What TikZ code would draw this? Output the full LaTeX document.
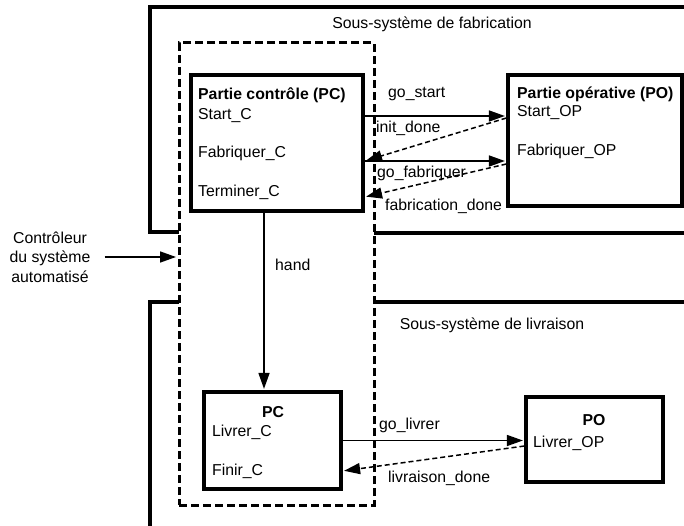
\documentclass[tikz,border=0pt]{standalone}
\usepackage{fontspec}
\setmainfont{Liberation Sans}
\usetikzlibrary{arrows.meta}

\begin{document}
\begin{tikzpicture}[x=1pt, y=-1pt,
  font=\fontsize{15.8}{19.5}\selectfont,
  bold/.style={font=\fontsize{15.8}{19.5}\selectfont\bfseries},
  box/.style={draw, line width=3.2pt, inner sep=0pt},
  zone/.style={draw, line width=3pt, dash pattern=on 8pt off 4pt, inner sep=0pt},
  txt/.style={inner sep=0pt, anchor=base west},
  frame/.style={line width=3.2pt},
  arr/.style={line width=1.5pt, shorten >=1.5pt, -{Triangle[length=16pt,width=11pt]}},
  darr/.style={arr, dash pattern=on 5pt off 3pt}
]
  \useasboundingbox (0,0) rectangle (684,526);

  % sous-systemes
  \draw[frame] (179,232) -- (150,232) -- (150,7) -- (686,7);
  \draw[frame] (374,233) -- (686,233);
  \draw[frame] (179,302) -- (150,302) -- (150,530);
  \draw[frame] (374,302) -- (686,302);
  \node[inner sep=0pt, anchor=base] (fabsys) at (432,29) {Sous-système de fabrication};
  \node[inner sep=0pt, anchor=base] (livsys) at (492,329) {Sous-système de livraison};

  % controleur
  \node[zone, minimum width=195pt, minimum height=462pt] (zone) at (276.5,274) {};
  \node[inner sep=0pt, align=center] (ctrl) at (50,257) {Contrôleur\\du système\\automatisé};

  % boites
  \node[box, minimum width=172pt, minimum height=136pt] (pc)  at (277,143)     {};
  \node[box, minimum width=174pt, minimum height=131pt] (po)  at (595,140.5)   {};
  \node[box, minimum width=137pt, minimum height=97pt]  (pcl) at (272.5,440.5) {};
  \node[box, minimum width=137pt, minimum height=85pt]  (pol) at (594.5,439.5) {};

  \node[txt, bold] (pct) at (198,100) {Partie contrôle (PC)};
  \node[txt] (startc) at (198,119.5) {Start\_C};
  \node[txt] (fabc)   at (198,158)   {Fabriquer\_C};
  \node[txt] (termc)  at (198,196.5) {Terminer\_C};
  \node[txt, bold] (pot) at (517,99) {Partie opérative (PO)};
  \node[txt] (startop) at (517,117) {Start\_OP};
  \node[txt] (fabop)   at (517,156) {Fabriquer\_OP};

  \node[bold, inner sep=0pt, anchor=base] (pclt) at (273,417) {PC};
  \node[txt] (livc) at (212,436) {Livrer\_C};
  \node[txt] (finc) at (212,475) {Finir\_C};
  \node[bold, inner sep=0pt, anchor=base] (polt) at (594,425) {PO};
  \node[txt] (livop) at (533,447) {Livrer\_OP};

  % messages
  \node[txt] (gostart)  at (388,98)  {go\_start};
  \node[txt] (initdone) at (376,133) {init\_done};
  \node[txt] (gofab)    at (377,178) {go\_fabriquer};
  \node[txt] (fabdone)  at (385,211) {fabrication\_done};
  \node[txt] (hand)     at (275,270) {hand};
  \node[txt] (golivrer) at (379,429) {go\_livrer};
  \node[txt] (livdone)  at (388,482) {livraison\_done};

  \draw[arr]  ([xshift=14pt]ctrl.east) -- (ctrl.east -| zone.west);
  \draw[arr]  ([yshift=27pt]pc.east) -- ([yshift=27pt]pc.east -| po.west);
  \draw[darr] ([yshift=22.5pt]po.west) -- ([yshift=-18pt]pc.east);
  \draw[arr]  ([yshift=-18pt]pc.east) -- ([yshift=-18pt]pc.east -| po.west);
  \draw[darr] ([yshift=-23.5pt]po.west) -- ([yshift=-54pt]pc.east);
  \draw[arr]  ([xshift=-13pt]pc.south) -- ([xshift=-13pt]pc.south |- pcl.north);
  \draw[arr]  (pcl.east) -- (pcl.east -| pol.west);
  \draw[darr] ([yshift=-6.5pt]pol.west) -- ([yshift=-30.5pt]pcl.east);
\end{tikzpicture}
\end{document}
